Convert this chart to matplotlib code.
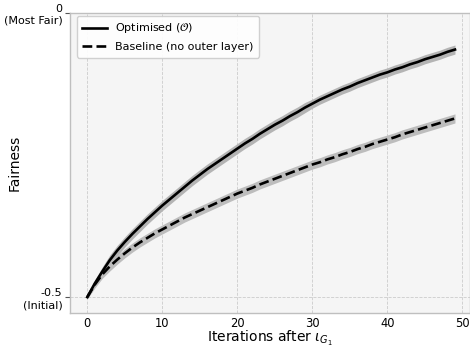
import matplotlib
matplotlib.use('Agg')
import matplotlib.pyplot as plt

# ── Data ───────────────────────────────────────────────────────────────────────
iterations = list(range(50))

optimised = [
    -0.500, -0.476, -0.455, -0.435, -0.418, -0.403, -0.389, -0.376, -0.363, -0.351,
    -0.339, -0.328, -0.317, -0.306, -0.295, -0.285, -0.275, -0.266, -0.257, -0.248,
    -0.239, -0.230, -0.222, -0.213, -0.205, -0.197, -0.190, -0.182, -0.175, -0.167,
    -0.160, -0.153, -0.147, -0.141, -0.135, -0.130, -0.124, -0.119, -0.114, -0.109,
    -0.105, -0.100, -0.096, -0.091, -0.087, -0.082, -0.078, -0.074, -0.069, -0.065,
]
optimised_std = [0.003, 0.006, 0.008, 0.009] + [0.009] * 26 + [0.008] * 20

baseline = [
    -0.500, -0.478, -0.460, -0.446, -0.434, -0.423, -0.413, -0.404, -0.396, -0.388,
    -0.381, -0.374, -0.367, -0.360, -0.354, -0.348, -0.342, -0.336, -0.330, -0.324,
    -0.318, -0.313, -0.308, -0.302, -0.297, -0.292, -0.287, -0.282, -0.277, -0.272,
    -0.267, -0.263, -0.258, -0.254, -0.249, -0.245, -0.240, -0.236, -0.231, -0.227,
    -0.223, -0.219, -0.214, -0.210, -0.206, -0.202, -0.198, -0.194, -0.190, -0.186,
]
baseline_std = [0.003, 0.006, 0.007] + [0.008] * 47

y_ticks = [-0.5, 0.0]
y_ticklabels = ['-0.5\n(Initial)', '0\n(Most Fair)']
x_ticks = [0, 10, 20, 30, 40, 50]

# ── Figure ─────────────────────────────────────────────────────────────────────
fig = plt.figure(figsize=(4.7, 3.49), dpi=100)
ax = fig.add_axes([0.149, 0.103, 0.851, 0.861])
ax.set_facecolor('#f5f5f5')

lo = [m - s for m, s in zip(optimised, optimised_std)]
hi = [m + s for m, s in zip(optimised, optimised_std)]
ax.fill_between(iterations, lo, hi, color='#b4b4b4', lw=0, zorder=2)
lo = [m - s for m, s in zip(baseline, baseline_std)]
hi = [m + s for m, s in zip(baseline, baseline_std)]
ax.fill_between(iterations, lo, hi, color='#bdbdbd', lw=0, zorder=2)

ax.plot(iterations, optimised, color='black', lw=1.9, zorder=3,
        label=r'Optimised ($\mathcal{O}$)')
ax.plot(iterations, baseline, color='black', lw=1.9, ls='--', zorder=3,
        label='Baseline (no outer layer)')

ax.set_xlim(-2.3, 51.0)
ax.set_ylim(-0.528, 0.0)
ax.set_xticks(x_ticks)
ax.set_yticks(y_ticks)
ax.set_yticklabels(y_ticklabels, fontsize=8, linespacing=1.25)
ax.tick_params(axis='x', length=0, labelsize=8.3, pad=2.5)
ax.tick_params(axis='y', length=3.5, color='#555555', labelsize=8, pad=2)

ax.grid(True, ls='--', lw=0.6, color='#cccccc')
ax.set_axisbelow(True)
for sp in ax.spines.values():
    sp.set_color('#bfbfbf')
    sp.set_linewidth(1.0)

ax.set_xlabel(r'Iterations after $\iota_{G_1}$', fontsize=10)
ax.xaxis.label.set_va('baseline')
ax.xaxis.set_label_coords(0.5, -0.097)
ax.set_ylabel('Fairness', fontsize=10)
ax.yaxis.set_label_coords(-0.122, 0.5)

ax.legend(loc='upper left', fontsize=8, frameon=True, framealpha=0.9,
          edgecolor='#cccccc', handlelength=2.2, borderpad=0.5,
          labelspacing=0.6, borderaxespad=0.3,
          bbox_to_anchor=(0.008, 1.0))

fig.savefig('out.png', dpi=100)
